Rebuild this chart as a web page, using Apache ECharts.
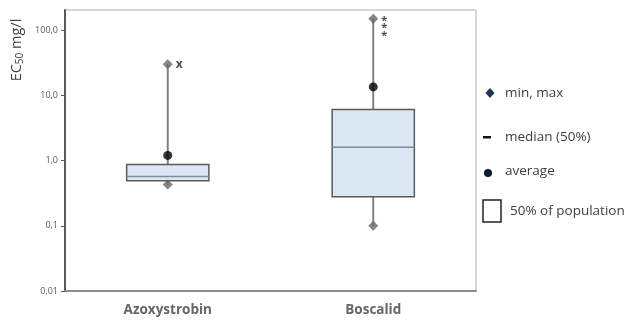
<!DOCTYPE html>
<html>
<head>
<meta charset="utf-8">
<script src="https://cdn.jsdelivr.net/npm/echarts@6/dist/echarts.min.js"></script>
<style>html,body{margin:0;padding:0;background:#fff}#c{width:635px;height:322px}</style>
</head>
<body>
<div id="c"></div>
<script>
const categories = ['Azoxystrobin', 'Boscalid'];
const minVals = [0.43, 0.1];
const q1Vals = [0.49, 0.28];
const medianVals = [0.57, 1.6];
const q3Vals = [0.87, 6.1];
const maxVals = [30, 150];
const averageVals = [1.2, 13.5];
const annotations = ['x', '*\n*\n*'];
const tickValues = [0.01, 0.1, 1, 10, 100];
const tickLabels = ['0,01', '0,1', '1,0', '10,0', '100,0'];
const legendLabels = ['min, max', 'median (50%)', 'average', '50% of population'];

const FONT = '"Open Sans", sans-serif';
const chart = echarts.init(document.getElementById('c'));

const boxData = categories.map((c, i) => [i, minVals[i], q1Vals[i], medianVals[i], q3Vals[i], maxVals[i]]);
const extremeData = [];
categories.forEach((c, i) => {
  extremeData.push({ value: [i, minVals[i]] });
  extremeData.push({
    value: [i, maxVals[i]],
    label: {
      show: true, formatter: annotations[i], position: 'right', distance: 3,
      color: '#222', fontWeight: 'bold', fontFamily: FONT,
      fontSize: i === 0 ? 12 : 11, lineHeight: i === 0 ? 12 : 7.5,
      verticalAlign: i === 0 ? 'middle' : 'top', offset: i === 0 ? [0, 0] : [0, -2]
    }
  });
});
const avgData = categories.map((c, i) => [i, averageVals[i]]);

function fmtTick(v) {
  const idx = tickValues.findIndex(t => Math.abs(Math.log10(t) - Math.log10(v)) < 1e-6);
  return idx >= 0 ? tickLabels[idx] : '';
}

chart.setOption({
  animation: false,
  grid: { left: 65, right: 159, top: 10, bottom: 31, show: true, borderColor: '#b0b0b0', borderWidth: 1 },
  xAxis: {
    type: 'category', data: categories,
    axisLine: { lineStyle: { color: '#8c8c8c', width: 2 } },
    axisTick: { show: false },
    axisLabel: { color: '#666666', fontWeight: 'bold', fontSize: 13.5, fontFamily: FONT, margin: 12 },
    splitLine: { show: false }
  },
  yAxis: {
    type: 'log', logBase: 10, min: 0.01, max: 204,
    axisLine: { show: true, lineStyle: { color: '#595959', width: 2 } },
    axisTick: { show: true, length: 4, lineStyle: { color: '#595959' }, customValues: tickValues },
    axisLabel: {
      customValues: tickValues, formatter: fmtTick, color: '#595959', fontSize: 9, fontFamily: FONT, margin: 7
    },
    splitLine: { show: false },
    minorTick: { show: false }
  },
  series: [
    {
      type: 'custom',
      data: boxData,
      encode: { x: 0, y: [1, 2, 3, 4, 5] },
      z: 2,
      renderItem: function (params, api) {
        const x = api.value(0);
        const pMin = api.coord([x, api.value(1)]);
        const pQ1 = api.coord([x, api.value(2)]);
        const pMed = api.coord([x, api.value(3)]);
        const pQ3 = api.coord([x, api.value(4)]);
        const pMax = api.coord([x, api.value(5)]);
        const w = api.size([1, 1])[0] * 0.4;
        const cx = pMin[0];
        return {
          type: 'group',
          children: [
            { type: 'line', shape: { x1: cx, y1: pMin[1], x2: cx, y2: pMax[1] },
              style: { stroke: '#808080', lineWidth: 2 } },
            { type: 'rect', shape: { x: cx - w / 2, y: pQ3[1], width: w, height: pQ1[1] - pQ3[1] },
              style: { fill: '#dae8f4', stroke: '#595959', lineWidth: 1.5 } },
            { type: 'line', shape: { x1: cx - w / 2, y1: pMed[1], x2: cx + w / 2, y2: pMed[1] },
              style: { stroke: '#7f8c99', lineWidth: 1.5 } }
          ]
        };
      }
    },
    {
      type: 'scatter', data: extremeData, symbol: 'diamond', symbolSize: 10, z: 3,
      itemStyle: { color: '#666666' }
    },
    {
      type: 'scatter', data: avgData, symbol: 'circle', symbolSize: 9, z: 4,
      itemStyle: { color: '#000000' }
    }
  ],
  graphic: [
    { type: 'text', x: 17, y: 50, rotation: Math.PI / 2,
      style: { text: '{a|EC}{s|50}{a| mg/l}', align: 'center', verticalAlign: 'middle',
        rich: { a: { fontSize: 14.5, fill: '#404040', fontFamily: FONT },
                s: { fontSize: 10, fill: '#404040', fontFamily: FONT, padding: [7, 0, 0, 0] } } } },
    { type: 'polygon', shape: { points: [[490, 88], [494.5, 93], [490, 98], [485.5, 93]] }, style: { fill: '#1f3550' } },
    { type: 'text', x: 505, y: 93, style: { text: legendLabels[0], fill: '#404040', fontSize: 13.5, fontFamily: FONT, verticalAlign: 'middle' } },
    { type: 'rect', shape: { x: 483, y: 136, width: 8, height: 2.5 }, style: { fill: '#111' } },
    { type: 'text', x: 505, y: 137, style: { text: legendLabels[1], fill: '#404040', fontSize: 13.5, fontFamily: FONT, verticalAlign: 'middle' } },
    { type: 'circle', shape: { cx: 488, cy: 173, r: 4 }, style: { fill: '#0a1a30' } },
    { type: 'text', x: 505, y: 171, style: { text: legendLabels[2], fill: '#404040', fontSize: 13.5, fontFamily: FONT, verticalAlign: 'middle' } },
    { type: 'rect', shape: { x: 483, y: 200, width: 18, height: 22 }, style: { fill: '#fff', stroke: '#222', lineWidth: 1.5 } },
    { type: 'text', x: 510, y: 211, style: { text: legendLabels[3], fill: '#404040', fontSize: 13.5, fontFamily: FONT, verticalAlign: 'middle' } }
  ]
});
</script>
</body>
</html>
